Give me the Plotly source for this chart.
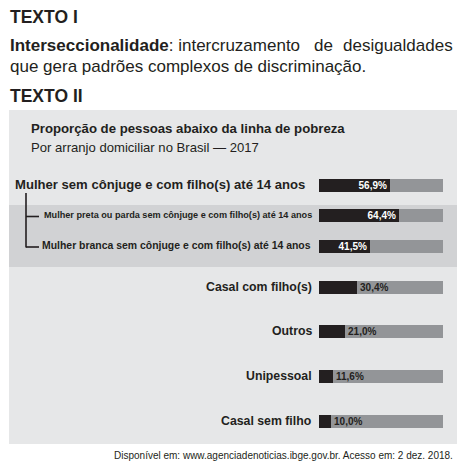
import plotly.graph_objects as go

W, H = 457, 465

# ---- data ----
top_categories = [
    "Mulher sem cônjuge e com filho(s) até 14 anos",
    "Mulher preta ou parda sem cônjuge e com filho(s) até 14 anos",
    "Mulher branca sem cônjuge e com filho(s) até 14 anos",
]
top_values = [56.9, 64.4, 41.5]
bottom_categories = ["Casal com filho(s)", "Outros", "Unipessoal", "Casal sem filho"]
bottom_values = [30.4, 21.0, 11.6, 10.0]
scale_max = 100

def fmt(v):
    return f"{v:.1f}%".replace(".", ",")

def px(x):
    return x / W

def py(y):
    return 1 - y / H

SANS = "Liberation Sans, Arial, Helvetica, sans-serif"
BLACK = "#231f20"
GRAY = "#939598"

fig = go.Figure()

# top group
fig.add_trace(go.Bar(y=top_categories, x=[scale_max] * len(top_categories), orientation="h",
                     marker=dict(color=GRAY, line=dict(width=0)), width=0.43,
                     xaxis="x", yaxis="y", hoverinfo="skip", showlegend=False))
fig.add_trace(go.Bar(y=top_categories, x=top_values, orientation="h",
                     marker=dict(color=BLACK, line=dict(width=0)), width=0.43,
                     text=[fmt(v) for v in top_values], textposition="inside",
                     insidetextanchor="end", constraintext="none",
                     textfont=dict(family=SANS, size=10, color="white", weight="bold"),
                     xaxis="x", yaxis="y", showlegend=False))
# bottom group
fig.add_trace(go.Bar(y=bottom_categories, x=[scale_max] * len(bottom_categories), orientation="h",
                     marker=dict(color=GRAY, line=dict(width=0)), width=0.29,
                     xaxis="x", yaxis="y2", hoverinfo="skip", showlegend=False))
fig.add_trace(go.Bar(y=bottom_categories, x=bottom_values, orientation="h",
                     marker=dict(color=BLACK, line=dict(width=0)), width=0.29,
                     text=[fmt(v) for v in bottom_values], textposition="outside",
                     constraintext="none",
                     textfont=dict(family=SANS, size=10, color="#231f20", weight="bold"),
                     cliponaxis=False,
                     xaxis="x", yaxis="y2", showlegend=False))

shapes = [
    dict(type="rect", xref="paper", yref="paper", x0=px(9), x1=px(457), y0=py(444), y1=py(110),
         fillcolor="#e6e7e8", line=dict(width=0), layer="below"),
    dict(type="rect", xref="paper", yref="paper", x0=px(9), x1=px(457), y0=py(267), y1=py(205),
         fillcolor="#d1d2d4", line=dict(width=0), layer="below"),
    dict(type="line", xref="paper", yref="paper", x0=px(26), x1=px(26), y0=py(193), y1=py(247.5),
         line=dict(color=BLACK, width=1.6)),
    dict(type="line", xref="paper", yref="paper", x0=px(26), x1=px(39), y0=py(216.5), y1=py(216.5),
         line=dict(color=BLACK, width=1.6)),
    dict(type="line", xref="paper", yref="paper", x0=px(26), x1=px(39), y0=py(247), y1=py(247),
         line=dict(color=BLACK, width=1.6)),
]

ann = []
def text(t, x, y, size, bold=False, xanchor="left", color="#231f20"):
    ann.append(dict(text=t, x=px(x), y=py(y), xref="paper", yref="paper", showarrow=False,
                    xanchor=xanchor, yanchor="middle",
                    font=dict(family=SANS, size=size, color=color,
                              weight="bold" if bold else "normal")))

text("TEXTO I", 8, 17, 17.5, bold=True)
text("<b>Interseccionalidade</b>: intercruzamento", 8, 45, 17)
text("de", 323.5, 45, 17, xanchor="center")
text("desigualdades", 455, 45, 17, xanchor="right")
text("que gera padrões complexos de discriminação.", 8, 67, 17)
text("TEXTO II", 8, 96, 17.5, bold=True)
text("Proporção de pessoas abaixo da linha de pobreza", 29, 129, 13.2, bold=True)
text("Por arranjo domiciliar no Brasil — 2017", 29, 147, 13.1)
text("Disponível em: www.agenciadenoticias.ibge.gov.br. Acesso em: 2 dez. 2018.", 455, 455, 10,
     xanchor="right")

# category labels (positioned on the category axes)
top_sizes = [13.1, 9.15, 10.45]
top_right = [307, 314, 313]
for cat, s, r in zip(top_categories, top_sizes, top_right):
    ann.append(dict(text=cat, x=px(r), y=cat, xref="paper", yref="y", showarrow=False,
                    xanchor="right", yanchor="middle",
                    font=dict(family=SANS, size=s, color="#231f20", weight="bold")))
for cat in bottom_categories:
    ann.append(dict(text=cat, x=px(314), y=cat, xref="paper", yref="y2", showarrow=False,
                    xanchor="right", yanchor="middle",
                    font=dict(family=SANS, size=12.3, color="#231f20", weight="bold")))

fig.update_layout(
    width=W, height=H, margin=dict(l=0, r=0, t=0, b=0),
    paper_bgcolor="white", plot_bgcolor="rgba(0,0,0,0)",
    barmode="overlay", bargap=0,
    xaxis=dict(range=[0, scale_max], domain=[px(319), px(443)], visible=False, fixedrange=True),
    yaxis=dict(domain=[py(261), py(169.5)], autorange="reversed", visible=False,
               anchor="x", fixedrange=True),
    yaxis2=dict(domain=[py(443), py(264.5)], autorange="reversed", visible=False,
                anchor="x", fixedrange=True),
    shapes=shapes, annotations=ann,
)

fig.write_html("out.html")
